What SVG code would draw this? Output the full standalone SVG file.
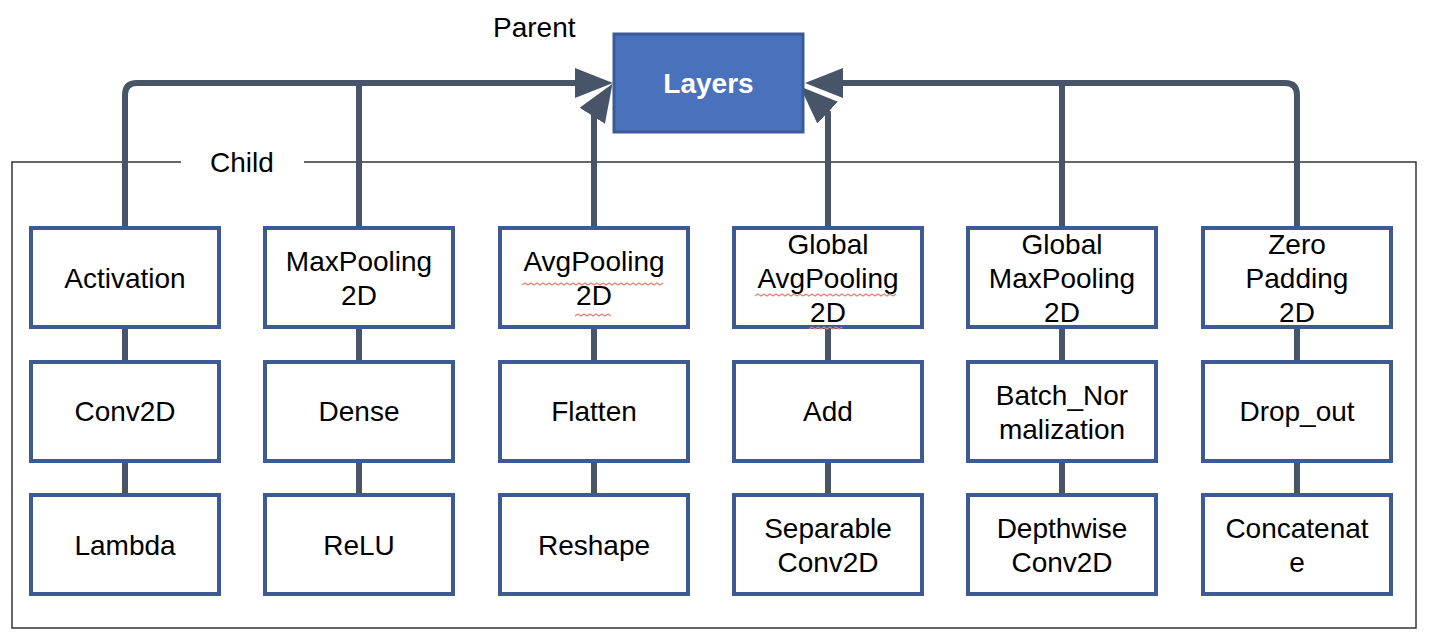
<svg xmlns="http://www.w3.org/2000/svg" width="1430" height="632" viewBox="0 0 1430 632">
<style>
.box{fill:#ffffff;stroke:#3d5a94;stroke-width:4;}
.t{font-family:"Liberation Sans",Arial,sans-serif;font-size:28px;fill:#000;text-anchor:middle;}
.lbl{font-family:"Liberation Sans",Arial,sans-serif;font-size:28px;fill:#000;}
.c{fill:none;stroke:#485569;stroke-width:6;}
.sq{fill:none;stroke:#e8806f;stroke-width:1.2;}
.frame{fill:none;stroke:#333;stroke-width:1.5;}
</style>
<defs>
<marker id="ah" markerUnits="userSpaceOnUse" markerWidth="40" markerHeight="32" refX="20" refY="15" orient="auto" viewBox="0 0 40 32">
<path d="M0,0 L38,15 L0,30 z" fill="#485569"/>
</marker>
</defs>
<rect width="1430" height="632" fill="#ffffff"/>
<g id="frame">
<path class="frame" d="M181,162 H12 V628 H1416 V162 H304"/>
<text class="lbl" x="210" y="172">Child</text>
<text class="lbl" x="493" y="37">Parent</text>
</g>
<g id="connectors">
<path class="c" d="M125,228 V95 Q125,83 137,83 H595" marker-end="url(#ah)"/>
<path class="c" d="M359,228 V83"/>
<path class="c" d="M594,228 V113 L602.9,98.9" marker-end="url(#ah)"/>
<path class="c" d="M1297,228 V95 Q1297,83 1285,83 H823" marker-end="url(#ah)"/>
<path class="c" d="M1062,228 V83"/>
<path class="c" d="M828,228 V113 L813.1,98.9" marker-end="url(#ah)"/>
<path class="c" d="M125,327 V362 M125,461 V495 M359,327 V362 M359,461 V495 M594,327 V362 M594,461 V495 M828,327 V362 M828,461 V495 M1062,327 V362 M1062,461 V495 M1297,327 V362 M1297,461 V495"/>
</g>
<g id="layers">
<rect x="614" y="34" width="189" height="98" fill="#4a72bc" stroke="#3b5b96" stroke-width="3"/>
<text class="t" x="708.5" y="93" style="fill:#fff;font-weight:bold">Layers</text>
</g>
<g id="activation"><rect class="box" x="31" y="228" width="188" height="99"/><text class="t" x="125" y="288">Activation</text></g>
<g id="maxpooling2d"><rect class="box" x="265" y="228" width="188" height="99"/><text class="t" x="359" y="271">MaxPooling</text><text class="t" x="359" y="305">2D</text></g>
<g id="avgpooling2d"><rect class="box" x="500" y="228" width="188" height="99"/><text class="t" x="594" y="271">AvgPooling</text><text class="t" x="594" y="305">2D</text>
<path class="sq" d="M522,285 l3,-2 3,2 3,-2 3,2 3,-2 3,2 3,-2 3,2 3,-2 3,2 3,-2 3,2 3,-2 3,2 3,-2 3,2 3,-2 3,2 3,-2 3,2 3,-2 3,2 3,-2 3,2 3,-2 3,2 3,-2 3,2 3,-2 3,2 3,-2 3,2 3,-2 3,2 3,-2 3,2 3,-2 3,2 3,-2 3,2 3,-2 3,2 3,-2 3,2 3,-2 3,2 3,-2"/>
<path class="sq" d="M575,316 l3,-2 3,2 3,-2 3,2 3,-2 3,2 3,-2 3,2 3,-2 3,2 3,-2 3,2"/>
</g>
<g id="globalavgpooling2d"><rect class="box" x="734" y="228" width="188" height="99"/><text class="t" x="828" y="254">Global</text><text class="t" x="828" y="288">AvgPooling</text><text class="t" x="828" y="322">2D</text>
<path class="sq" d="M755,296 l3,-2 3,2 3,-2 3,2 3,-2 3,2 3,-2 3,2 3,-2 3,2 3,-2 3,2 3,-2 3,2 3,-2 3,2 3,-2 3,2 3,-2 3,2 3,-2 3,2 3,-2 3,2 3,-2 3,2 3,-2 3,2 3,-2 3,2 3,-2 3,2 3,-2 3,2 3,-2 3,2 3,-2 3,2 3,-2 3,2 3,-2 3,2 3,-2 3,2 3,-2 3,2 3,-2"/>
<path class="sq" d="M809,329 l3,-2 3,2 3,-2 3,2 3,-2 3,2 3,-2 3,2 3,-2 3,2 3,-2"/>
</g>
<g id="globalmaxpooling2d"><rect class="box" x="968" y="228" width="188" height="99"/><text class="t" x="1062" y="254">Global</text><text class="t" x="1062" y="288">MaxPooling</text><text class="t" x="1062" y="322">2D</text></g>
<g id="zeropadding2d"><rect class="box" x="1203" y="228" width="188" height="99"/><text class="t" x="1297" y="254">Zero</text><text class="t" x="1297" y="288">Padding</text><text class="t" x="1297" y="322">2D</text></g>
<g id="conv2d"><rect class="box" x="31" y="362" width="188" height="99"/><text class="t" x="125" y="421">Conv2D</text></g>
<g id="dense"><rect class="box" x="265" y="362" width="188" height="99"/><text class="t" x="359" y="421">Dense</text></g>
<g id="flatten"><rect class="box" x="500" y="362" width="188" height="99"/><text class="t" x="594" y="421">Flatten</text></g>
<g id="add"><rect class="box" x="734" y="362" width="188" height="99"/><text class="t" x="828" y="421">Add</text></g>
<g id="batchnorm"><rect class="box" x="968" y="362" width="188" height="99"/><text class="t" x="1062" y="405">Batch_Nor</text><text class="t" x="1062" y="438.5">malization</text></g>
<g id="dropout"><rect class="box" x="1203" y="362" width="188" height="99"/><text class="t" x="1297" y="421">Drop_out</text></g>
<g id="lambda"><rect class="box" x="31" y="495" width="188" height="99"/><text class="t" x="125" y="554.5">Lambda</text></g>
<g id="relu"><rect class="box" x="265" y="495" width="188" height="99"/><text class="t" x="359" y="554.5">ReLU</text></g>
<g id="reshape"><rect class="box" x="500" y="495" width="188" height="99"/><text class="t" x="594" y="554.5">Reshape</text></g>
<g id="separableconv2d"><rect class="box" x="734" y="495" width="188" height="99"/><text class="t" x="828" y="538">Separable</text><text class="t" x="828" y="571.5">Conv2D</text></g>
<g id="depthwiseconv2d"><rect class="box" x="968" y="495" width="188" height="99"/><text class="t" x="1062" y="538">Depthwise</text><text class="t" x="1062" y="571.5">Conv2D</text></g>
<g id="concatenate"><rect class="box" x="1203" y="495" width="188" height="99"/><text class="t" x="1297" y="538">Concatenat</text><text class="t" x="1297" y="571.5">e</text></g>
</svg>
